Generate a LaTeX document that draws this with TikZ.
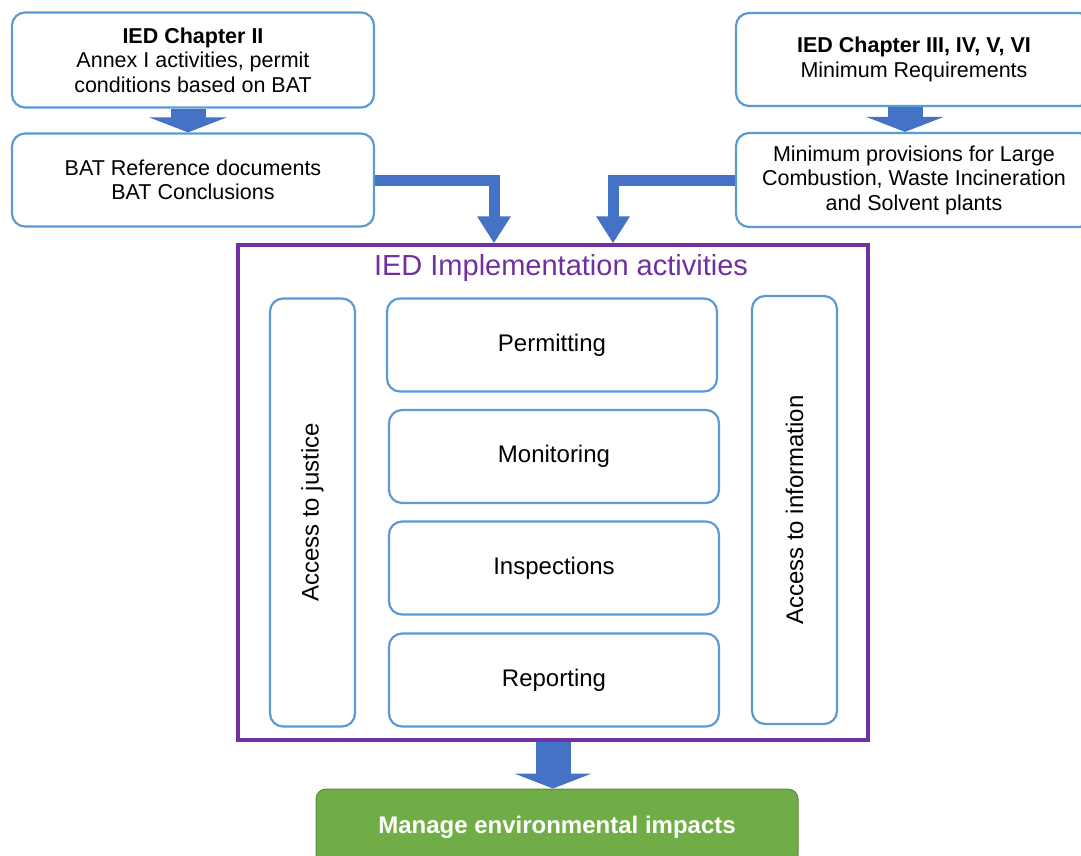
\documentclass[tikz,border=0pt]{standalone}
\usepackage{fontspec}
\setmainfont{Liberation Sans}
\usetikzlibrary{arrows.meta,positioning}
\definecolor{boxblue}{HTML}{5B9BD5}
\definecolor{arrowblue}{HTML}{4472C4}
\definecolor{implpurple}{HTML}{7030A0}
\definecolor{managegreen}{HTML}{70AD47}
\tikzset{
    blk/.style={draw=boxblue, line width=2.2pt, rounded corners=13pt, fill=white,
        align=center, inner sep=0pt, font=\fontsize{21.5}{24.5}\selectfont},
    act/.style={blk, minimum width=330pt, minimum height=93pt, font=\fontsize{24}{28}\selectfont},
    side/.style={blk, minimum width=85pt, minimum height=428pt, font=\fontsize{24}{28}\selectfont},
    bigarrow/.style={arrowblue, line width=35pt, -{Triangle[width=77pt,length=15pt]}},
    elbow/.style={arrowblue, line width=11pt, -{Triangle[width=32pt,length=27pt]}}
}
\begin{document}
\begin{tikzpicture}[x=1pt,y=-1pt]
    \useasboundingbox (0,0) rectangle (1081,855);
    \clip (0,0) rectangle (1081,855);
    % Source boxes
    \node[blk, minimum width=362pt, minimum height=95pt] (chII) at (193,60)
        {\textbf{IED Chapter II}\\Annex I activities, permit\\conditions based on BAT};
    \node[blk, minimum width=362pt, minimum height=93pt] (batref) at (193,180)
        {BAT Reference documents\\BAT Conclusions};
    \node[blk, minimum width=356pt, minimum height=93pt] (chIII) at (914,59.5)
        {\textbf{IED Chapter III, IV, V, VI}\\Minimum Requirements};
    \node[blk, minimum width=356pt, minimum height=94pt] (minprov) at (914,180)
        {Minimum provisions for Large\\Combustion, Waste Incineration\\and Solvent plants};
    % Implementation frame
    \node[draw=implpurple, line width=3.5pt, minimum width=630pt, minimum height=495pt, inner sep=0pt] (impl) at (553,492.5) {};
    \node[text=implpurple, font=\fontsize{29}{32}\selectfont] (impltitle) at (561,268) {IED Implementation activities};
    \node[side] (justice) at (312.5,512.5) {\rotatebox{90}{Access to justice}};
    \node[side] (info) at (794.5,510) {\rotatebox{90}{Access to information}};
    \node[act] (permit) at (552,345) {Permitting};
    \node[act] (monitor) at (554,456.5) {Monitoring};
    \node[act] (inspect) at (554,568) {Inspections};
    \node[act] (report) at (554,680) {Reporting};
    % Outcome
    \node[fill=managegreen, draw=managegreen!80!black, line width=1pt, rounded corners=10pt,
        minimum width=482pt, minimum height=76pt, inner sep=0pt, text=white,
        font=\bfseries\fontsize{24}{28}\selectfont] (manage) at (557,827) {\raisebox{4pt}{Manage environmental impacts}};
    % Arrows
    \draw[bigarrow] ([xshift=-5pt]chII.south) -- ([xshift=-5pt]batref.north);
    \draw[bigarrow] ([xshift=-9pt]chIII.south) -- ([xshift=-9pt]minprov.north);
    \draw[elbow] (batref.east) -| ([xshift=-59pt]impl.north);
    \draw[elbow] (minprov.west) -| ([xshift=60pt]impl.north);
    \draw[bigarrow] (impl.south) -- (impl.south |- manage.north);
\end{tikzpicture}
\end{document}
